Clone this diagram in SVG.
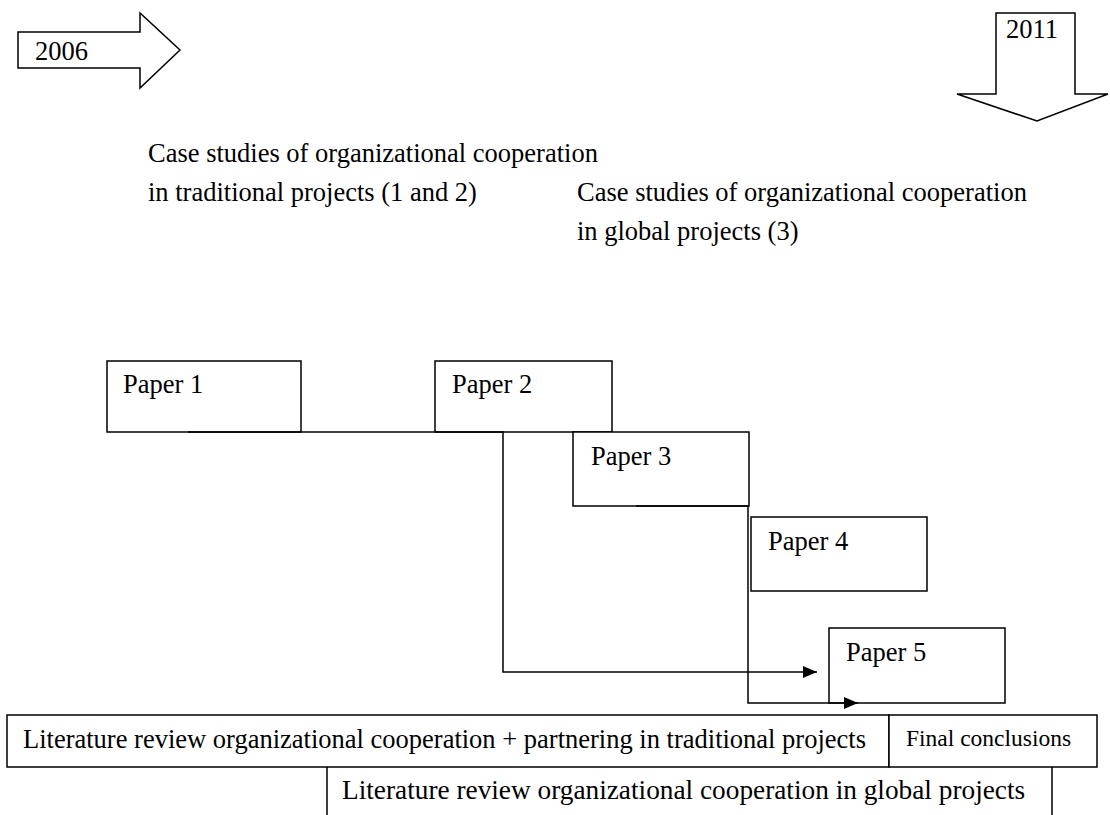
<svg xmlns="http://www.w3.org/2000/svg" width="1110" height="815" viewBox="0 0 1110 815">
  <defs>
    <marker id="head" viewBox="0 0 14 12" refX="14" refY="6" markerWidth="14" markerHeight="12" markerUnits="userSpaceOnUse" orient="auto">
      <path d="M0,0 L14,6 L0,12 Z" fill="#000"/>
    </marker>
  </defs>
  <style>
    text { font-family: "Liberation Serif", "Times New Roman", serif; font-size: 26.5px; fill: #000; }
    .box { fill: #fff; stroke: #000; stroke-width: 1.5; }
    .line { fill: none; stroke: #000; stroke-width: 1.5; }
    .wire { fill: none; stroke: #000; stroke-width: 1.5; }
    .small { font-size: 23.5px; }
    .wide { font-size: 27.3px; }
  </style>

  <rect width="1110" height="815" fill="#fff"/>

  <!-- timeline start arrow -->
  <g id="start-2006">
    <polygon class="box" points="18,32 140,32 140,13 180,50 140,88 140,68 18,68"/>
    <text x="35" y="60">2006</text>
  </g>

  <!-- timeline end arrow -->
  <g id="end-2011">
    <polygon class="box" points="996,13 1075,13 1075,94 1108,94 1037,121 957,94 996,94"/>
    <text x="1006" y="38">2011</text>
  </g>

  <!-- case study captions -->
  <g id="case-traditional">
    <text x="148" y="162">Case studies of organizational cooperation</text>
    <text x="148" y="201">in traditional projects (1 and 2)</text>
  </g>
  <g id="case-global">
    <text x="577" y="201">Case studies of organizational cooperation</text>
    <text x="577" y="240">in global projects (3)</text>
  </g>

  <!-- papers -->
  <g id="paper1">
    <rect class="box" x="107" y="361" width="194" height="71"/>
    <text x="123" y="393">Paper 1</text>
  </g>
  <g id="paper2">
    <rect class="box" x="435" y="361" width="177" height="71"/>
    <text x="452" y="393">Paper 2</text>
  </g>
  <g id="paper3">
    <rect class="box" x="573" y="432" width="176" height="74"/>
    <text x="591" y="465">Paper 3</text>
  </g>
  <g id="paper4">
    <rect class="box" x="751" y="517" width="176" height="74"/>
    <text x="768" y="550">Paper 4</text>
  </g>
  <g id="paper5">
    <rect class="box" x="829" y="628" width="176" height="75"/>
    <text x="846" y="661">Paper 5</text>
  </g>

  <!-- connectors -->
  <g id="connectors">
    <polyline class="wire" points="188,432 503,432 503,672 817,672" marker-end="url(#head)"/>
    <polyline class="wire" points="636,506 748,506 748,703 858,703" marker-end="url(#head)"/>
  </g>

  <!-- literature review rows -->
  <g id="lit-traditional">
    <rect class="box" x="7" y="715" width="882" height="52"/>
    <text x="23" y="748">Literature review organizational cooperation + partnering in traditional projects</text>
  </g>
  <g id="final-conclusions">
    <rect class="box" x="889" y="715" width="208" height="52"/>
    <text class="small" x="906" y="746">Final conclusions</text>
  </g>
  <g id="lit-global">
    <line class="line" x1="327" y1="767" x2="327" y2="815"/>
    <line class="line" x1="1052" y1="767" x2="1052" y2="815"/>
    <text class="wide" x="342" y="799">Literature review organizational cooperation in global projects</text>
  </g>
</svg>
